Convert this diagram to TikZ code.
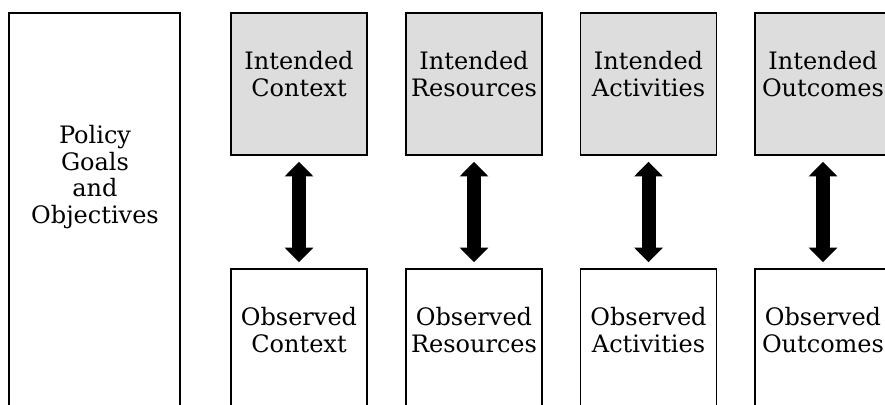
\documentclass[tikz,border=0pt]{standalone}
\usepackage{fontspec}
\setmainfont{DejaVu Serif}
\usetikzlibrary{arrows.meta,calc,positioning}
\definecolor{boxgray}{RGB}{221,221,221}

\begin{document}
\begin{tikzpicture}[x=0.75pt,y=-0.75pt,
  box/.style={draw, line width=1.2pt, minimum width=102pt, minimum height=106.5pt, inner sep=0pt},
  intended/.style={box, fill=boxgray},
  lbl/.style={align=center, font=\fontsize{18}{20}\selectfont, inner sep=0pt},
  link/.style={line width=10.5pt, {Triangle[length=11pt,width=21pt]}-{Triangle[length=11pt,width=21pt]}, shorten <=4.5pt, shorten >=4.5pt}]
\clip (0,0) rectangle (885,404);
% left column
\node[box, minimum width=128.25pt, minimum height=305pt] (policy) at (94.5,216.5) {};
\node[lbl] (policylbl) at (95,177) {Policy\\Goals\\and\\Objectives};
% intended vs observed
\foreach \kind/\x [count=\i] in {Context/299, Resources/474, Activities/648.5, Outcomes/823} {
  \node[intended] (int\i) at (\x,84) {};
  \node[lbl] (intlbl\i) at ($(int\i.center)+(0,-10)$) {Intended\\\kind};
  \node[box] (obs\i) at (\x,340) {};
  \node[lbl] (obslbl\i) at ($(obs\i.center)+(0,-10)$) {Observed\\\kind};
  \draw[link] (int\i) -- (obs\i);
}
\end{tikzpicture}
\end{document}
